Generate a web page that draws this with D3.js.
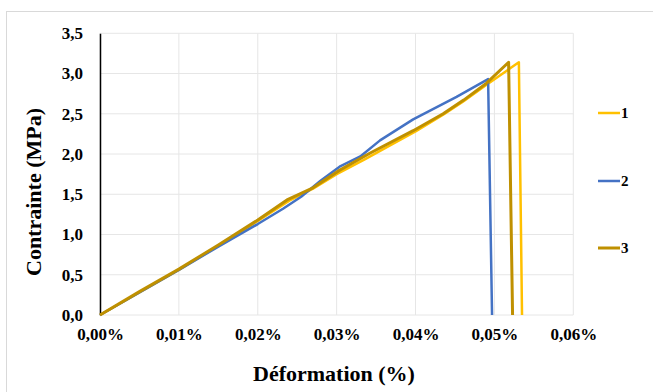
<!DOCTYPE html>
<html><head><meta charset="utf-8">
<script src="https://cdn.jsdelivr.net/npm/d3@7"></script>
<style>body{margin:0;background:#fff;} svg{display:block;} svg text{font-family:"Liberation Serif","Times New Roman","DejaVu Serif",serif !important;font-weight:bold;}</style>
</head><body>
<svg id="chart" width="653" height="392"></svg>
<script>
const xTicks = [0, 0.01, 0.02, 0.03, 0.04, 0.05, 0.06];
const yTicks = [0, 0.5, 1.0, 1.5, 2.0, 2.5, 3.0, 3.5];
const seriesNames = ["1", "2", "3"];
const seriesColors = ["#FFC000", "#4472C4", "#BF9000"];
// strain (%) and stress (MPa)
const strain1 = [0, 0.005, 0.01, 0.015, 0.02, 0.024, 0.027, 0.030, 0.0335, 0.037, 0.040, 0.0435, 0.046, 0.049, 0.0531, 0.0535];
const stress1 = [0, 0.28, 0.56, 0.86, 1.17, 1.42, 1.57, 1.75, 1.93, 2.12, 2.28, 2.49, 2.65, 2.86, 3.14, 0];
const strain2 = [0, 0.005, 0.01, 0.015, 0.02, 0.0232, 0.0255, 0.028, 0.0305, 0.033, 0.0355, 0.0397, 0.0452, 0.0492, 0.0497];
const stress2 = [0, 0.28, 0.56, 0.85, 1.13, 1.32, 1.47, 1.67, 1.85, 1.97, 2.17, 2.43, 2.71, 2.93, 0];
const strain3 = [0, 0.005, 0.01, 0.015, 0.02, 0.0237, 0.027, 0.0304, 0.0342, 0.0397, 0.0435, 0.0461, 0.049, 0.0518, 0.0523];
const stress3 = [0, 0.29, 0.57, 0.87, 1.18, 1.43, 1.58, 1.80, 2.01, 2.29, 2.50, 2.67, 2.88, 3.14, 0];
const strains = [strain1, strain2, strain3];
const stresses = [stress1, stress2, stress3];

const svg = d3.select("#chart");
svg.append("rect").attr("x",6.5).attr("y",11.5).attr("width",660).attr("height",400)
  .attr("fill","#fff").attr("stroke","#d9d9d9").attr("stroke-width",1);

const x = d3.scaleLinear().domain([0,0.06]).range([100,573.3]);
const y = d3.scaleLinear().domain([0,3.5]).range([315,33.3]);

const g = svg.append("g");
g.selectAll(".vg").data(xTicks).enter().append("line")
  .attr("x1",d=>x(d)).attr("x2",d=>x(d)).attr("y1",y(0)).attr("y2",y(3.5))
  .attr("stroke","#e6e6e6").attr("stroke-width",1);
g.selectAll(".hg").data(yTicks).enter().append("line")
  .attr("x1",x(0)).attr("x2",x(0.06)).attr("y1",d=>y(d)).attr("y2",d=>y(d))
  .attr("stroke","#e6e6e6").attr("stroke-width",1);

const xAxis = d3.axisBottom(x).tickValues(xTicks).tickSize(0).tickPadding(13)
  .tickFormat(d=>d3.format(".2f")(d).replace(".",",")+"%");
const xa = svg.append("g").attr("transform",`translate(0,${y(0)})`).call(xAxis);
xa.select(".domain").remove();
xa.selectAll("text").style("font-size","17px").attr("fill","#000");

const yAxis = d3.axisLeft(y).tickValues(yTicks).tickSize(0).tickPadding(17)
  .tickFormat(d=>d3.format(".1f")(d).replace(".",","));
const ya = svg.append("g").attr("transform",`translate(${x(0)},0)`).call(yAxis);
ya.select(".domain").attr("stroke","#000").attr("stroke-width",1.5);
ya.selectAll("text").style("font-size","17px").attr("fill","#000");

const line = d3.line().x(d=>x(d[0])).y(d=>y(d[1]));
const widths = [2.5, 2.5, 3];
[0,1,2].forEach(i=>{
  const pts = strains[i].map((s,j)=>[s, stresses[i][j]]);
  svg.append("path").datum(pts).attr("d",line).attr("fill","none")
    .attr("stroke",seriesColors[i]).attr("stroke-width",widths[i]).attr("stroke-linejoin","round");
});

svg.append("text").attr("x",334).attr("y",381).attr("text-anchor","middle")
  .style("font-size","22px").text("Déformation (%)");
svg.append("text").attr("transform","translate(41,192) rotate(-90)").attr("text-anchor","middle")
  .style("font-size","22px").text("Contrainte (MPa)");

const legY = [113, 181, 248];
seriesNames.forEach((n,i)=>{
  svg.append("line").attr("x1",598).attr("x2",620).attr("y1",legY[i]).attr("y2",legY[i])
    .attr("stroke",seriesColors[i]).attr("stroke-width",widths[i]);
  svg.append("text").attr("x",621).attr("y",legY[i]+5)
    .style("font-size","15px").text(n);
});
</script>
</body></html>
